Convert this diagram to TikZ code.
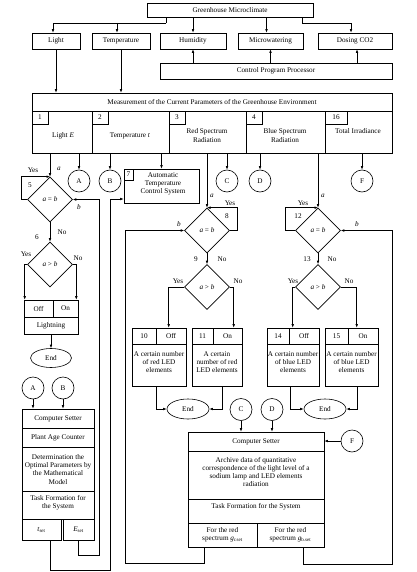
\documentclass[tikz,border=0pt]{standalone}
\usepackage{fontspec}
\setmainfont{Liberation Serif}
\usetikzlibrary{arrows.meta,shapes.geometric}
\begin{document}
\begin{tikzpicture}[x=1pt,y=-1pt,
  every node/.style={font=\fontsize{7.2}{8.3}\selectfont},
  ln/.style={line width=0.6pt},
  arr/.style={ln,-{Latex[length=3.5pt,width=2.6pt]}},
  box/.style={draw,ln,inner sep=0pt,align=center},
  numbox/.style={draw,ln,inner sep=0pt,anchor=north west,minimum height=13pt},
  dia/.style={draw,ln,diamond,minimum width=45pt,minimum height=45pt,inner sep=0pt},
  circ/.style={draw,ln,circle,minimum size=22pt,inner sep=0pt},
  ell/.style={draw,ln,ellipse,minimum width=41pt,minimum height=19pt,inner sep=0pt},
  lbl/.style={inner sep=0pt,align=center},
]
\useasboundingbox (0,0) rectangle (416,572);

% ---------- top ----------
\node[box,minimum width=166pt,minimum height=14pt] (gm) at (230,10) {Greenhouse Microclimate};
\node[box,minimum width=48pt,minimum height=16pt] (light) at (56,41) {Light};
\node[box,minimum width=58pt,minimum height=16pt] (temp) at (121,41) {Temperature};
\node[box,minimum width=66pt,minimum height=16pt] (hum) at (193,41) {Humidity};
\node[box,minimum width=65pt,minimum height=16pt] (micro) at (270.5,41) {Microwatering};
\node[box,minimum width=74pt,minimum height=16pt] (co2) at (355,41) {Dosing CO2};
\node[box,minimum width=232pt,minimum height=16pt] (cpp) at (276,71) {Control Program Processor};

\coordinate (j1) at (166,23);
\coordinate (j2) at (302,23);
\draw[ln] (gm.south -| j1) -- (j1);
\draw[arr] (j1) -| ([xshift=-3pt]light.north);
\draw[arr] ([xshift=-4pt]temp.north |- j1) -- ([xshift=-4pt]temp.north);
\draw[arr] (gm.south -| hum.north) -- (hum.north);
\draw[arr] ([xshift=-4pt]micro.north |- gm.south) -- ([xshift=-4pt]micro.north);
\draw[ln] (gm.south -| j2) -- (j2);
\draw[arr] (j2) -| ([xshift=-4pt]co2.north);
\draw[arr] (cpp.north -| hum.south) -- (hum.south);
\draw[arr] (cpp.north -| micro.south) -- (micro.south);
\draw[arr] ([xshift=2pt]cpp.north -| co2.south) -- ([xshift=2pt]co2.south);

% ---------- measurement ----------
\node[box,minimum width=360pt,minimum height=18pt] (meas) at (212,102) {Measurement of the Current Parameters of the Greenhouse Environment};
\draw[arr] (light.south) -- (light.south |- meas.north);
\draw[arr] (temp.south) -- (temp.south |- meas.north);

\node[box,minimum width=60pt,minimum height=42pt] (c1) at (62,132) {};
\node[box,minimum width=77pt,minimum height=42pt] (c2) at (130.5,132) {};
\node[box,minimum width=77pt,minimum height=42pt] (c3) at (207.5,132) {};
\node[box,minimum width=79pt,minimum height=42pt] (c4) at (285.5,132) {};
\node[box,minimum width=67pt,minimum height=42pt] (c5) at (358.5,132) {};
\node[numbox,minimum width=16pt] (n1) at (c1.north west) {1};
\node[numbox,minimum width=16pt] (n2) at (c2.north west) {2};
\node[numbox,minimum width=16pt] (n3) at (c3.north west) {3};
\node[numbox,minimum width=16pt] (n4) at (c4.north west) {4};
\node[numbox,minimum width=22pt] (n16) at (c5.north west) {16};
\node[lbl] (t1) at (63,136) {Light \textit{E}};
\node[lbl] (t2) at (130,136) {Temperature \textit{t}};
\node[lbl] (t3) at (207,135.5) {Red Spectrum\\Radiation};
\node[lbl] (t4) at (285,135.5) {Blue Spectrum\\Radiation};
\node[lbl] (t5) at (358,131) {Total Irradiance};

% ---------- second level ----------
\node[dia] (d5) at (50,199.5) {\textit{a} = \textit{b}};
\node[dia] (d6) at (50,264.5) {\textit{a} > \textit{b}};
\node[circ] (ca) at (79,181) {A};
\node[circ] (cb) at (110,181) {B};
\node[box,minimum width=75pt,minimum height=34pt] (b7) at (161.5,186) {};
\node[lbl] (b7t) at (163,184) {Automatic\\Temperature\\Control System};
\node[numbox,minimum width=9pt,minimum height=11pt] (n7) at (b7.north west) {7};
\node[circ] (cc) at (227,181) {C};
\node[circ] (cd) at (260,181) {D};
\node[circ] (cf) at (362,181) {F};
\node[dia] (d8) at (207,230.5) {\textit{a} = \textit{b}};
\node[dia] (d9) at (207,287) {\textit{a} > \textit{b}};
\node[dia] (d12) at (318,230.5) {\textit{a} = \textit{b}};
\node[dia] (d13) at (318,287) {\textit{a} > \textit{b}};

\draw[arr] (c1.south -| d5.north) -- (d5.north);
\draw[arr] (c1.south -| ca.north) -- (ca.north);
\draw[arr] (c2.south -| cb.north) -- (cb.north);
\draw[arr] (c2.south -| b7.north) -- (b7.north);
\draw[arr] (c3.south -| d8.north) -- (d8.north);
\draw[arr] (c3.south -| cc.north) -- (cc.north);
\draw[arr] (c4.south -| cd.north) -- (cd.north);
\draw[arr] (c4.south -| d12.north) -- (d12.north);
\draw[arr] (c5.south -| cf.north) -- (cf.north);

% loops and flow, left
\draw[arr] (d5.west) -- ++(-6,0) |- (d5.north);
\draw[arr] (d5.south) -- (d6.north);
\node[box,minimum width=29pt,minimum height=17pt] (off6) at (38.5,308.5) {Off};
\node[box,minimum width=25pt,minimum height=17pt] (on6) at (65.5,308.5) {On};
\node[box,minimum width=54pt,minimum height=17pt] (lig) at (51,325.5) {Lightning};
\node[ell] (end1) at (51,358) {End};
\draw[arr] (d6.west) -| ([xshift=1pt]off6.north west);
\draw[arr] (d6.east) -| ([xshift=-2pt]on6.north east);
\draw[arr] (lig.south) -- (end1.north);

% labels left
\node[lbl] at (33,170) {Yes};
\node[lbl] at (59,169) {\textit{a}};
\node[lbl] at (30,185) {5};
\node[lbl] at (79,207) {\textit{b}};
\node[lbl] at (62,232) {No};
\node[lbl] at (37,237) {6};
\node[lbl] at (26,254) {Yes};
\node[lbl] at (78,258) {No};

% left stack
\node[circ] (a2) at (33,388) {A};
\node[circ] (b2) at (63,388) {B};
\node[box,minimum width=72pt,minimum height=19pt] (cs1) at (58,418.5) {Computer Setter};
\node[box,minimum width=72pt,minimum height=19pt] (cs2) at (58,437.5) {Plant Age Counter};
\node[box,minimum width=72pt,minimum height=44pt] (cs3) at (58,469.2) {Determination the\\Optimal Parameters by\\the Mathematical\\Model};
\node[box,minimum width=72pt,minimum height=27.5pt] (cs4) at (58,505.3) {};
\node[lbl] (cs4t) at (58,503) {Task Formation for\\the System};
\node[box,minimum width=39pt,minimum height=21pt] (tset) at (41.5,529.5) {\textit{t}\textsubscript{set}};
\node[box,minimum width=31pt,minimum height=21pt] (eset) at (78.5,529.5) {\textit{E}\textsubscript{set}};
\draw[arr] (a2.south) -- (a2.south |- cs1.north);
\draw[arr] (b2.south) -- (b2.south |- cs1.north);

\coordinate (lb) at (110,570);
\coordinate (lc) at (99,555);
\draw[arr] ([xshift=8.5pt]tset.south) |- (lb) |- ([yshift=-13pt]b7.west);
\draw[arr] (eset.south) |- (lc) |- (d5.east);

% right loops
\draw[arr] (d8.east) -- ++(7,0) |- (d8.north);
\draw[arr] (d12.west) -- ++(-10,0) |- (d12.north);
\draw[arr] (d8.south) -- (d9.north);
\draw[arr] (d12.south) -- (d13.north);

\node[lbl] at (212,196) {\textit{a}};
\node[lbl] at (230,203) {Yes};
\node[lbl] at (227,216) {8};
\node[lbl] at (179,224) {\textit{b}};
\node[lbl] at (196,259) {9};
\node[lbl] at (222,259) {No};
\node[lbl] at (178,281) {Yes};
\node[lbl] at (238,281) {No};
\node[lbl] at (323,196) {\textit{a}};
\node[lbl] at (303,203) {Yes};
\node[lbl] at (298,216) {12};
\node[lbl] at (357,224) {\textit{b}};
\node[lbl] at (307,259) {13};
\node[lbl] at (332,259) {No};
\node[lbl] at (293,281) {Yes};
\node[lbl] at (349,281) {No};

% LED boxes
\node[box,minimum width=24pt,minimum height=16pt] (n10) at (144,336) {10};
\node[box,minimum width=30pt,minimum height=16pt] (off10) at (171,336) {Off};
\node[box,minimum width=54pt,minimum height=42pt] (b10) at (159,365) {};
\node[lbl] (b10t) at (159,362) {A certain number\\of red LED\\elements};
\node[box,minimum width=21pt,minimum height=16pt] (n11) at (202.5,336) {11};
\node[box,minimum width=29pt,minimum height=16pt] (on11) at (227.5,336) {On};
\node[box,minimum width=50pt,minimum height=42pt] (b11) at (217,365) {};
\node[lbl] (b11t) at (217,362) {A certain\\number of red\\LED elements};
\node[box,minimum width=22pt,minimum height=16pt] (n14) at (278,336) {14};
\node[box,minimum width=30pt,minimum height=16pt] (off14) at (304,336) {Off};
\node[box,minimum width=52pt,minimum height=42pt] (b14) at (293,365) {};
\node[lbl] (b14t) at (293,362) {A certain number\\of blue LED\\elements};
\node[box,minimum width=23pt,minimum height=16pt] (n15) at (336.5,336) {15};
\node[box,minimum width=30pt,minimum height=16pt] (on15) at (363,336) {On};
\node[box,minimum width=53pt,minimum height=42pt] (b15) at (351.5,365) {};
\node[lbl] (b15t) at (351.5,362) {A certain number\\of blue LED\\elements};

\draw[arr] (d9.west) -| ([xshift=13pt]off10.north west);
\draw[arr] (d9.east) -| ([xshift=21pt]on11.north west);
\draw[arr] (d13.west) -| ([xshift=4pt]off14.north west);
\draw[arr] (d13.east) -| ([xshift=9pt]on15.north west);

\node[ell,minimum width=42pt,minimum height=20pt] (endL) at (188,409) {End};
\node[ell,minimum width=42pt,minimum height=20pt] (endR) at (325,409) {End};
\draw[arr] ([xshift=-3pt]b10.south) |- (endL.west);
\draw[arr] ([xshift=5pt]b11.south) |- (endL.east);
\draw[arr] ([xshift=-3pt]b14.south) |- (endR.west);
\draw[arr] ([xshift=6pt]b15.south) |- (endR.east);

% big box
\node[circ] (c2c) at (241,409.5) {C};
\node[circ] (d2c) at (272,409.5) {D};
\node[circ] (f2) at (352,441) {F};
\node[box,minimum width=136pt,minimum height=19pt] (bs1) at (256,441.5) {Computer Setter};
\node[box,minimum width=136pt,minimum height=48pt] (bs2) at (256,475) {};
\node[lbl] (bs2t) at (256,472) {Archive data of quantitative\\correspondence of the light level of a\\sodium lamp and LED elements\\radiation};
\node[box,minimum width=136pt,minimum height=24pt] (bs3) at (256,511) {};
\node[lbl] (bs3t) at (256,507) {Task Formation for the System};
\node[box,minimum width=69pt,minimum height=24pt] (bs4) at (222.5,535) {For the red\\spectrum \textit{g}\textsubscript{r.set}};
\node[box,minimum width=67pt,minimum height=24pt] (bs5) at (290.5,535) {For the red\\spectrum \textit{g}\textsubscript{b.set}};
\draw[arr] (c2c.south) -- (c2c.south |- bs1.north);
\draw[arr] (d2c.south) -- (d2c.south |- bs1.north);
\draw[arr] (f2.west) -- (f2.west -| bs1.east);

\coordinate (lr) at (125,563);
\coordinate (lq) at (392,564);
\draw[arr] ([xshift=-18.5pt]bs4.south) |- (lr) |- (d8.west);
\draw[arr] ([xshift=12.5pt]bs5.south) |- (lq) |- (d12.east);
\end{tikzpicture}
\end{document}
